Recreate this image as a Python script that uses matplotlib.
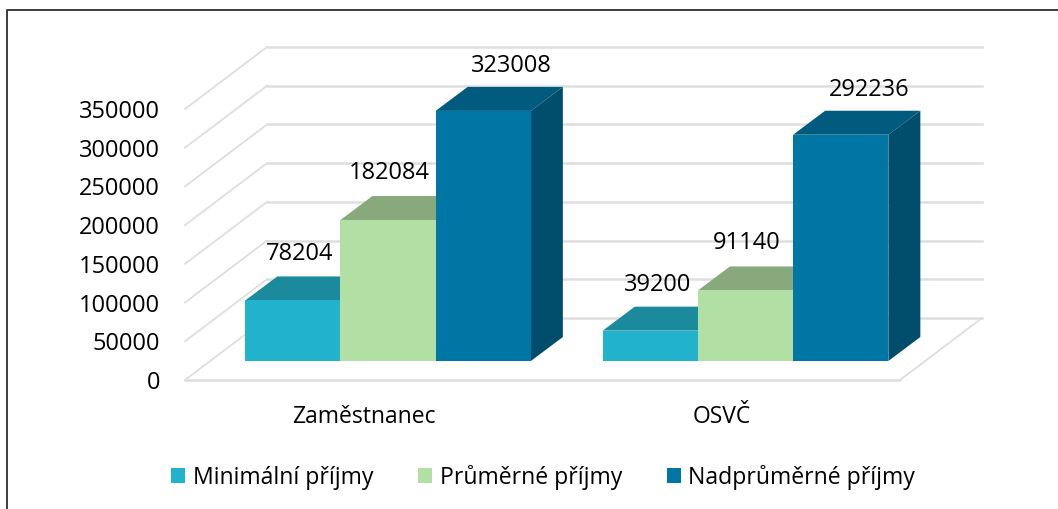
# -*- coding: utf-8 -*-

import numpy as np
import matplotlib.pyplot as plt
from matplotlib.lines import Line2D
from matplotlib.patches import Polygon, Rectangle

categories = ['Zaměstnanec', 'OSVČ']
series = ['Minimální příjmy', 'Průměrné příjmy', 'Nadprůměrné příjmy']
minimalni = [78204, 39200]
prumerne = [182084, 91140]
nadprumerne = [323008, 292236]
yticks = [0, 50000, 100000, 150000, 200000, 250000, 300000, 350000]

front = ['#21B3CB', '#B2DFA3', '#0076A5']
top = ['#1B8A9C', '#88A97C', '#005B7F']
side = ['#176F7F', '#6E8A64', '#004D6C']
grid = '#DEDEDE'

W, H = 1058, 509
plt.rcParams['font.family'] = ['Open Sans', 'DejaVu Sans']

fig = plt.figure(figsize=(W/100, H/100), dpi=100)
# front plane of the 3d box: x 185-900 px, value 0 at y=380, 350000 at y=109
ax = fig.add_axes([185/W, 1-380/H, 715/W, 271/H])
ax.set_xlim(0, 2)
ax.set_ylim(0, 350000)
ax.patch.set_alpha(0)
for s in ax.spines.values():
    s.set_visible(False)

# px -> data units
ux = 2/715.
uy = 350000/271.
wall_dx, wall_dy = 82*ux, 62*uy
base_dx, base_dy = 24.5*ux, 19*uy
bar_dx, bar_dy = 32*ux, 24*uy
bar_w = 95.2*ux

for y in yticks:
    ax.plot([0, wall_dx], [y, y+wall_dy], color=grid, lw=1.3, clip_on=False, zorder=1)
    ax.plot([wall_dx, 2+wall_dx], [y+wall_dy, y+wall_dy], color=grid, lw=1.8, clip_on=False, zorder=1)
ax.plot([0, 2], [0, 0], color=grid, lw=1.8, clip_on=False, zorder=1)
ax.plot([2, 2+wall_dx], [0, wall_dy], color=grid, lw=1.3, clip_on=False, zorder=1)

values = [minimalni, prumerne, nadprumerne]
label_off = [(7, 22), (1, 23), (28, 21)]
z = 3
for c in range(2):
    left = c + 0.1 + base_dx
    for i in range(3):
        v = values[i][c]
        x0 = left + i*bar_w
        x1 = x0 + bar_w
        b = base_dy
        t = b + v
        ax.add_patch(Polygon([(x1, b), (x1+bar_dx, b+bar_dy), (x1+bar_dx, t+bar_dy), (x1, t)],
                             fc=side[i], ec='none', clip_on=False, zorder=z))
        ax.add_patch(Polygon([(x0, t), (x0+bar_dx, t+bar_dy), (x1+bar_dx, t+bar_dy), (x1, t)],
                             fc=top[i], ec='none', clip_on=False, zorder=z))
        ax.add_patch(Rectangle((x0, b), bar_w, v, fc=front[i], ec='none', clip_on=False, zorder=z+1))
        z += 2
        ax.text(x0 + bar_w/2 + label_off[i][0]*ux, t + bar_dy + label_off[i][1]*uy, str(v),
                ha='center', va='center', fontsize=17, color='black', zorder=20)

ax.set_yticks(yticks)
ax.set_yticklabels([str(y) for y in yticks], fontsize=17, color='black')
ax.set_xticks([0.5, 1.5])
ax.set_xticklabels(categories, fontsize=16.5, color='black')
ax.tick_params(axis='both', length=0)
ax.tick_params(axis='y', pad=18)
ax.tick_params(axis='x', pad=18)

# legend squares and labels
handles = [Rectangle((0, 0), 1, 1, fc=front[i], ec='none') for i in range(3)]
fig.legend(handles, series, loc='center', bbox_to_anchor=(543/W, 1-477/H), ncol=3, frameon=False,
           fontsize=16.6, handlelength=0.62, handleheight=0.62, handletextpad=0.32, columnspacing=1.95,
           borderpad=0, borderaxespad=0)

# outer frame, only left and top are in the picture
fig.add_artist(Line2D([7/W, 7/W, 1], [0, 1-10/H, 1-10/H], transform=fig.transFigure, color='#3C3C3C', lw=1.4))

fig.savefig('out.png', dpi=100)
